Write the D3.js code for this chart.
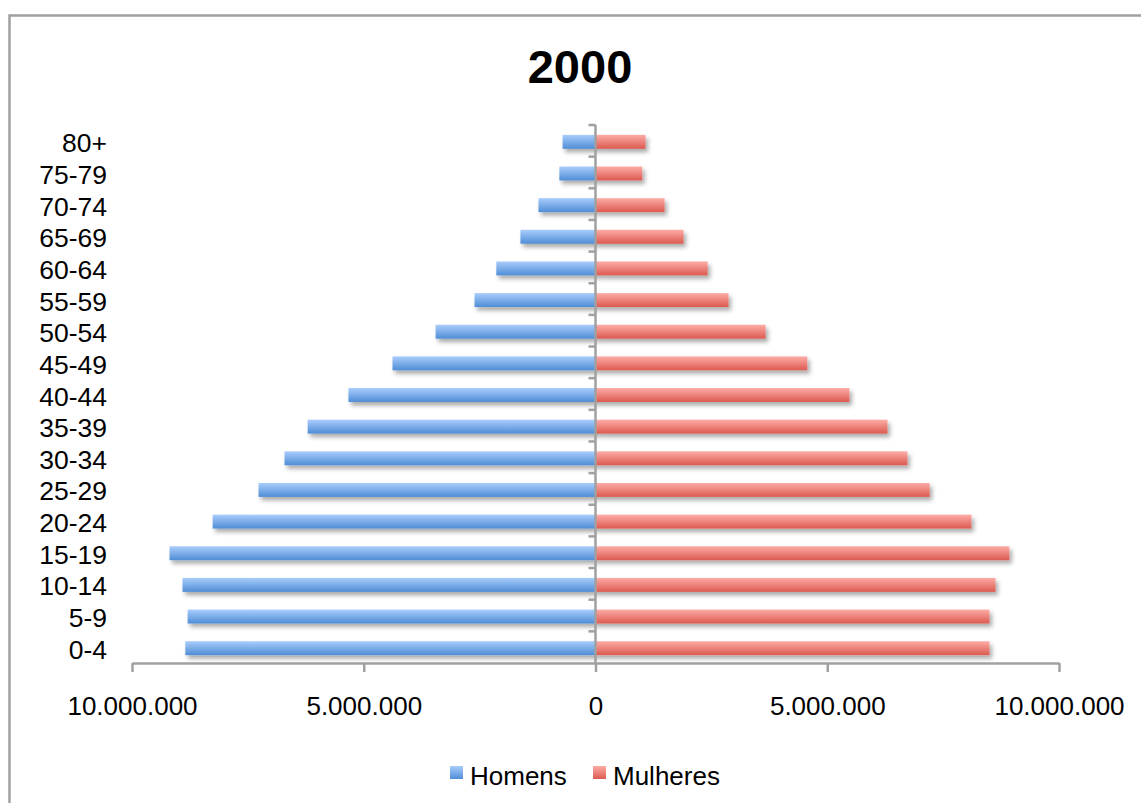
<!DOCTYPE html>
<html>
<head>
<meta charset="utf-8">
<script src="https://cdn.jsdelivr.net/npm/d3@7"></script>
<style>
  html, body { margin: 0; padding: 0; background: #fff; }
  svg { display: block; font-family: "Liberation Sans", Arial, sans-serif; }
</style>
</head>
<body>
<svg id="chart" width="1141" height="803"></svg>
<script>
// Population pyramid, 2000 (persons per age group)
const ageGroups = ["80+", "75-79", "70-74", "65-69", "60-64", "55-59", "50-54", "45-49",
                   "40-44", "35-39", "30-34", "25-29", "20-24", "15-19", "10-14", "5-9", "0-4"];
const homens   = [710000, 780000, 1230000, 1620000, 2140000, 2610000, 3450000, 4380000,
                  5330000, 6210000, 6710000, 7270000, 8260000, 9190000, 8910000, 8800000, 8850000];
const mulheres = [1080000, 1010000, 1490000, 1900000, 2420000, 2870000, 3670000, 4570000,
                  5480000, 6300000, 6730000, 7210000, 8110000, 8930000, 8630000, 8500000, 8500000];
const xTicks = [-10000000, -5000000, 0, 5000000, 10000000];
const seriesNames = ["Homens", "Mulheres"];
const title = "2000";

const svg = d3.select("#chart");
const W = 1141, H = 803;

const axisColor = "#a0a0a0";

// Outer chart frame
svg.append("rect")
  .attr("x", 9.5).attr("y", 15.5)
  .attr("width", W + 20).attr("height", H + 20)
  .attr("fill", "#fff")
  .attr("stroke", axisColor).attr("stroke-width", 2.5);

const defs = svg.append("defs");

function gradient(id, top, bottom) {
  const g = defs.append("linearGradient").attr("id", id)
    .attr("x1", 0).attr("y1", 0).attr("x2", 0).attr("y2", 1);
  g.append("stop").attr("offset", "0%").attr("stop-color", top);
  g.append("stop").attr("offset", "100%").attr("stop-color", bottom);
}
gradient("gradBlue", "#a9cdfc", "#4f8dd6");
gradient("gradRed", "#fdaca7", "#dc5a50");

const shadow = defs.append("filter").attr("id", "shadow")
  .attr("x", "-10%").attr("y", "-50%").attr("width", "130%").attr("height", "250%");
shadow.append("feDropShadow")
  .attr("dx", 2.5).attr("dy", 3.5).attr("stdDeviation", 2.2)
  .attr("flood-color", "#000").attr("flood-opacity", 0.33);

// Scales
const x = d3.scaleLinear().domain([-10000000, 10000000]).range([132, 1059]);
const y = d3.scaleBand().domain(ageGroups).range([126, 664]).paddingInner(0.56).paddingOuter(0.28);
const band = d3.scaleBand().domain(ageGroups).range([125, 663]);

const locale = d3.formatLocale({ decimal: ",", thousands: ".", grouping: [3], currency: ["", ""] });
const fmt = locale.format(",d");

// Title
svg.append("text")
  .attr("x", 580).attr("y", 83)
  .attr("text-anchor", "middle")
  .attr("font-size", 47).attr("font-weight", "bold")
  .attr("fill", "#000")
  .text(title);

// Bars
const bars = svg.append("g").attr("filter", "url(#shadow)");
bars.selectAll("rect.h").data(ageGroups).join("rect")
  .attr("class", "h")
  .attr("x", (d, i) => x(-homens[i]))
  .attr("y", d => y(d))
  .attr("width", (d, i) => x(0) - x(-homens[i]))
  .attr("height", y.bandwidth())
  .attr("fill", "url(#gradBlue)");
bars.selectAll("rect.m").data(ageGroups).join("rect")
  .attr("class", "m")
  .attr("x", x(0))
  .attr("y", d => y(d))
  .attr("width", (d, i) => x(mulheres[i]) - x(0))
  .attr("height", y.bandwidth())
  .attr("fill", "url(#gradRed)");

// Horizontal value axis
const xAxis = d3.axisBottom(x).tickValues(xTicks).tickSize(9).tickSizeOuter(0)
  .tickFormat(d => fmt(Math.abs(d)));
const gx = svg.append("g").attr("transform", "translate(0,663)").call(xAxis);
gx.select(".domain").attr("stroke", axisColor).attr("stroke-width", 2.5);
gx.selectAll(".tick line").attr("stroke", axisColor).attr("stroke-width", 2.5);
gx.selectAll(".tick text")
  .attr("y", 0).attr("dy", 0)
  .attr("transform", "translate(0,52)")
  .attr("font-size", 26)
  .attr("font-family", "Liberation Sans, Arial, sans-serif")
  .attr("fill", "#000");

// Vertical category axis with ticks at band boundaries
const gy = svg.append("g");
gy.append("line")
  .attr("x1", x(0)).attr("x2", x(0))
  .attr("y1", band.range()[0]).attr("y2", band.range()[1])
  .attr("stroke", axisColor).attr("stroke-width", 2.5);
const boundaries = ageGroups.map(d => band(d));
gy.selectAll("line.tk").data(boundaries).join("line")
  .attr("class", "tk")
  .attr("x1", x(0) - 7).attr("x2", x(0))
  .attr("y1", d => d).attr("y2", d => d)
  .attr("stroke", axisColor).attr("stroke-width", 2.5);

// Age group labels
svg.append("g").selectAll("text").data(ageGroups).join("text")
  .attr("x", 107)
  .attr("y", d => band(d) + band.bandwidth() / 2 + 11.5)
  .attr("text-anchor", "end")
  .attr("font-size", 26.5)
  .attr("fill", "#000")
  .text(d => d);

// Legend
const legendColors = ["url(#gradBlue)", "url(#gradRed)"];
const legendX = [450, 593];
const lg = svg.append("g");
seriesNames.forEach((name, i) => {
  lg.append("rect")
    .attr("x", legendX[i]).attr("y", 766)
    .attr("width", 13).attr("height", 13)
    .attr("fill", legendColors[i]);
  lg.append("text")
    .attr("x", legendX[i] + 20).attr("y", 785)
    .attr("font-size", 26)
    .attr("fill", "#000")
    .text(name);
});
</script>
</body>
</html>
